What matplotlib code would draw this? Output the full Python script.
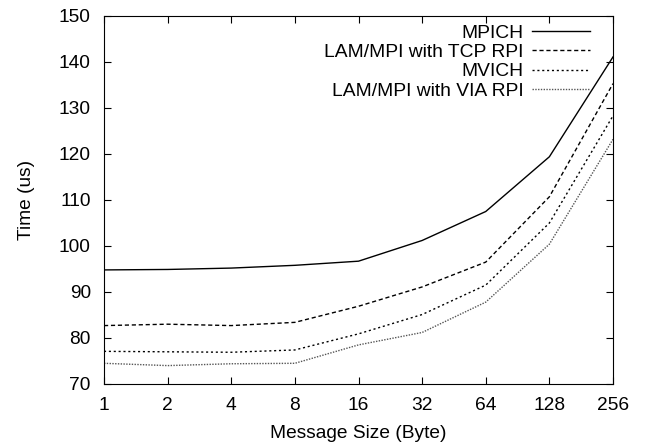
import matplotlib
matplotlib.use('Agg')
import matplotlib.pyplot as plt

sizes = ['1', '2', '4', '8', '16', '32', '64', '128', '256']
mpich = [94.8, 94.9, 95.2, 95.8, 96.7, 101.2, 107.5, 119.4, 141.1]
lam_tcp = [82.7, 83.0, 82.7, 83.4, 86.9, 91.1, 96.5, 110.7, 135.3]
mvich = [77.1, 77.0, 76.9, 77.4, 80.9, 85.1, 91.5, 105.0, 128.3]
lam_via = [74.5, 74.0, 74.4, 74.5, 78.5, 81.2, 87.8, 100.4, 123.2]
yticks = [70, 80, 90, 100, 110, 120, 130, 140, 150]

plt.rcParams['font.family'] = ['Liberation Sans', 'DejaVu Sans']
plt.rcParams['font.size'] = 13.8

fig = plt.figure(figsize=(6.48, 4.46), dpi=100)
ax = fig.add_axes([104/648, 62/446, 509/648, 368/446])

x = list(range(len(sizes)))
ax.plot(x, mpich, color='black', lw=1.0, ls='-', label='MPICH')
ax.plot(x, lam_tcp, color='black', lw=1.0, ls=(0, (3, 2)), label='LAM/MPI with TCP RPI')
ax.plot(x, mvich, color='black', lw=1.0, ls=(0, (1.5, 2)), label='MVICH')
ax.plot(x, lam_via, color='#555555', lw=1.0, ls=(0, (1, 1)), label='LAM/MPI with VIA RPI')

ax.set_xlim(0, len(sizes) - 1)
ax.set_ylim(70, 150)
ax.set_xticks(x)
ax.set_xticklabels(sizes)
ax.set_yticks(yticks)
ax.tick_params(direction='in', top=True, right=True, length=5, width=0.8, pad=9.5)
ax.set_xlabel('Message Size (Byte)', labelpad=7.5)
ax.set_ylabel('Time (us)', labelpad=17)

# legend: labels right-aligned, sample lines on the right (gnuplot style)
ax.legend(loc='upper right', bbox_to_anchor=(0.9548, 0.978), markerfirst=False,
          frameon=False, handlelength=3.0, labelspacing=0.1, borderpad=0,
          borderaxespad=0, handletextpad=0.45, fontsize=13.9)
for t in ax.get_legend().get_texts():
    t.set_ha('right')

fig.savefig('out.png', dpi=100)
